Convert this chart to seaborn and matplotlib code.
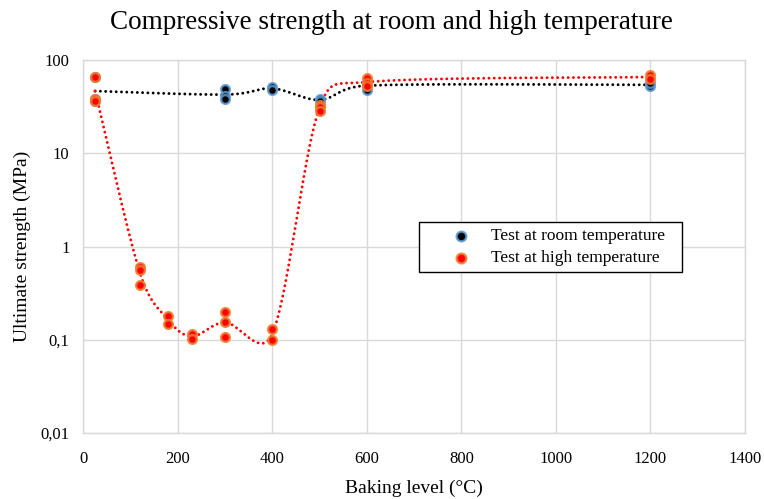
import numpy as np
import pandas as pd
import matplotlib
matplotlib.use("Agg")
import matplotlib.pyplot as plt
from matplotlib.ticker import FixedLocator, FuncFormatter, NullLocator
import seaborn as sns

# ── Data ────────────────────────────────────────────────────────────────────
room_temp = [25, 25, 25, 300, 300, 300, 400, 400, 500, 500, 600, 600, 600, 1200, 1200]
room_strength = [65, 38, 36, 48.5, 41, 38, 51, 47.8, 38.5, 36, 48, 54, 57, 52, 56]

high_temp = [25, 25, 25, 120, 120, 120, 180, 180, 230, 230, 300, 300, 300,
             400, 400, 500, 500, 500, 600, 600, 600, 1200, 1200]
high_strength = [65, 38, 36, 0.61, 0.56, 0.39, 0.18, 0.147, 0.115, 0.103,
                 0.2, 0.156, 0.106, 0.132, 0.099, 33, 31.5, 28, 63.5, 57, 53, 69, 62]

TITLE = "Compressive strength at room and high temperature"
X_LABEL = "Baking level (°C)"
Y_LABEL = "Ultimate strength (MPa)"
Y_TICKS = [0.01, 0.1, 1, 10, 100]
X_TICKS = [0, 200, 400, 600, 800, 1000, 1200, 1400]

# rough pixel scale of the plot area, used only so the smoothing behaves
# the way Excel's does (it works in screen space)
PX_PER_DEG = 662 / 1400
PX_PER_DECADE = 373 / 4


def excel_smooth(xs, ys, n=40, clamp=0.6):
    """Bezier 'smoothed line' in screen-like space (x, log y)."""
    p = np.column_stack([np.asarray(xs, float) * PX_PER_DEG,
                         np.log10(ys) * PX_PER_DECADE])
    out = []
    for i in range(len(p) - 1):
        p0 = p[i - 1] if i > 0 else p[i]
        p1, p2 = p[i], p[i + 1]
        p3 = p[i + 2] if i + 2 < len(p) else p[i + 1]
        seg_len = np.hypot(*(p2 - p1))
        t1 = (p2 - p0) / 6
        t2 = (p3 - p1) / 6
        for t in (t1, t2):
            ln = np.hypot(*t)
            if ln > clamp * seg_len:
                t *= clamp * seg_len / ln
        c1 = p1 + t1
        c2 = p2 - t2
        t = np.linspace(0, 1, n)[:, None]
        seg = ((1 - t) ** 3 * p1 + 3 * (1 - t) ** 2 * t * c1
               + 3 * (1 - t) * t ** 2 * c2 + t ** 3 * p2)
        out.append(seg if i == 0 else seg[1:])
    pts = np.vstack(out)
    return pts[:, 0] / PX_PER_DEG, 10 ** (pts[:, 1] / PX_PER_DECADE)


def main():
    room = pd.DataFrame({"temp": room_temp, "strength": room_strength})
    high = pd.DataFrame({"temp": high_temp, "strength": high_strength})
    room_mean = room.groupby("temp")["strength"].mean()
    high_mean = high.groupby("temp")["strength"].mean()

    sns.set_theme(style="whitegrid")
    plt.rcParams["font.family"] = ["Liberation Serif", "DejaVu Serif"]
    plt.rcParams["text.color"] = "black"
    plt.rcParams["axes.labelcolor"] = "black"

    fig, ax = plt.subplots(figsize=(7.64, 4.99), dpi=100)
    fig.subplots_adjust(left=0.109, right=0.975, top=0.88, bottom=0.132)

    dotted = dict(linestyle=(0, (0.01, 1.8)), dash_capstyle="round", lw=2.1, zorder=2)
    sx, sy = excel_smooth(room_mean.index, room_mean.values)
    ax.plot(sx, sy, color="black", **dotted)
    sx, sy = excel_smooth(high_mean.index, high_mean.values)
    ax.plot(sx, sy, color="#FF0000", **dotted)

    sns.scatterplot(data=room, x="temp", y="strength", color="black",
                    edgecolor=(0.36, 0.61, 0.84, 0.85), linewidth=1.7, s=40,
                    label="Test at room temperature", ax=ax, zorder=3)
    sns.scatterplot(data=high, x="temp", y="strength", color="#FF0000",
                    edgecolor=(0.93, 0.49, 0.19, 0.85), linewidth=1.7, s=40,
                    label="Test at high temperature", ax=ax, zorder=4)

    ax.set_yscale("log")
    ax.set_ylim(0.01, 100)
    ax.set_xlim(0, 1400)
    ax.yaxis.set_major_locator(FixedLocator(Y_TICKS))
    ax.yaxis.set_minor_locator(NullLocator())
    ax.yaxis.set_major_formatter(FuncFormatter(lambda v, _: f"{v:g}".replace(".", ",")))
    ax.xaxis.set_major_locator(FixedLocator(X_TICKS))

    ax.grid(True, color="#D9D9D9", lw=1.0)
    for sp in ax.spines.values():
        sp.set_color("#D9D9D9")
        sp.set_linewidth(1.0)
    ax.tick_params(length=0, labelsize=12, colors="black")
    ax.tick_params(axis="y", pad=10)
    ax.tick_params(axis="x", pad=13)

    ax.set_xlabel(X_LABEL, fontsize=14, labelpad=9)
    ax.set_ylabel(Y_LABEL, fontsize=14, labelpad=7)
    fig.suptitle(TITLE, fontsize=19.5, x=0.512, y=0.98, color="black")

    leg = ax.legend(loc="upper left", bbox_to_anchor=(0.508, 0.437, 0.397, 0.129),
                    mode="expand", fontsize=12.5, frameon=True, fancybox=False,
                    borderpad=0.35, handlelength=4.15, handletextpad=-0.35,
                    labelspacing=0.35, borderaxespad=0, markerscale=1.1)
    leg.get_frame().set_edgecolor("black")
    leg.get_frame().set_linewidth(1.0)
    leg.get_frame().set_alpha(1)

    fig.savefig("out.png", dpi=100)
    plt.close(fig)


if __name__ == "__main__":
    main()
